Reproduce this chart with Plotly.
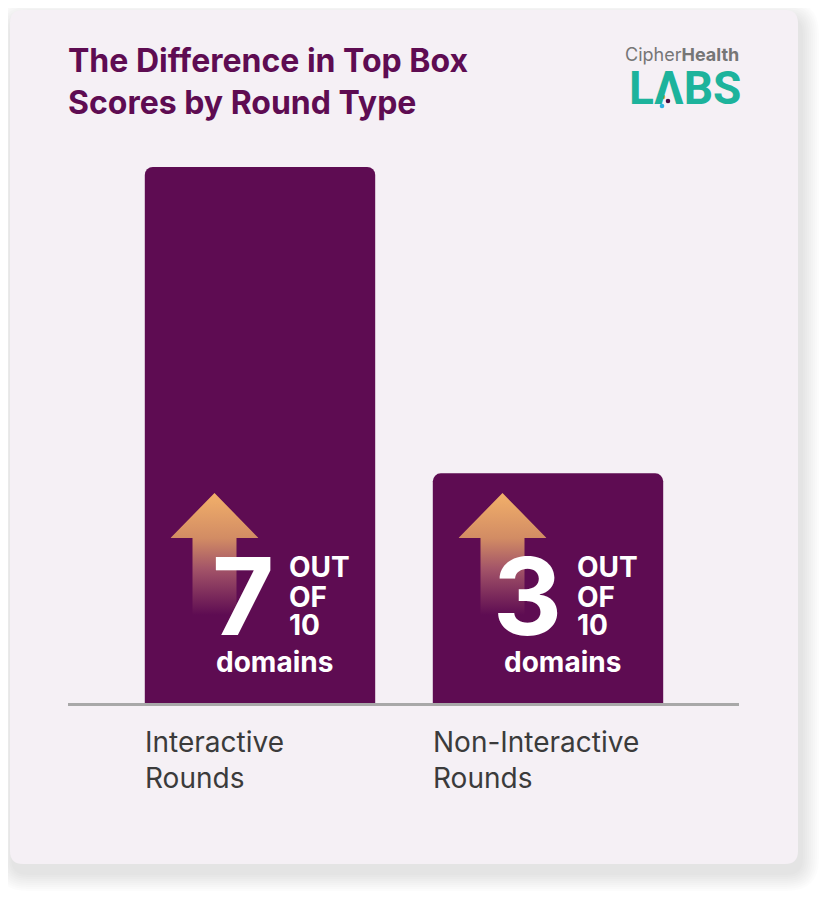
import base64
import plotly.graph_objects as go

# ---- data ----
categories = ["Interactive Rounds", "Non-Interactive Rounds"]
label_lines = ["Interactive<br>Rounds", "Non-Interactive<br>Rounds"]
domains_up = [7, 3]
domains_total = 10

OFF = 8  # default page margin of the html body
W, H = 830 - OFF, 897 - OFF
BAR = "#5e0c52"
CARD = "#f5f0f5"
TEAL = "#1db39c"

def px(x):
    return (x - OFF) / W

def py(y):
    return 1 - (y - OFF) / H

def rrect(x0, y0, x1, y1, r):
    return (
        f"M {px(x0 + r)} {py(y0)} L {px(x1 - r)} {py(y0)} "
        f"Q {px(x1)} {py(y0)} {px(x1)} {py(y0 + r)} "
        f"L {px(x1)} {py(y1 - r)} Q {px(x1)} {py(y1)} {px(x1 - r)} {py(y1)} "
        f"L {px(x0 + r)} {py(y1)} Q {px(x0)} {py(y1)} {px(x0)} {py(y1 - r)} "
        f"L {px(x0)} {py(y0 + r)} Q {px(x0)} {py(y0)} {px(x0 + r)} {py(y0)} Z"
    )

fig = go.Figure()
fig.add_trace(go.Bar(
    x=list(range(len(categories))), y=domains_up, width=0.8,
    marker=dict(color=BAR, line=dict(width=0)),
    hoverinfo="skip", showlegend=False,
))

shapes = []
# soft card shadow
for grow in range(18, 0, -2):
    shapes.append(dict(type="path", xref="paper", yref="paper", layer="below",
                       path=rrect(10 - grow + 3, 10 - grow + 9, 798 + grow + 3, 864 + grow + 9, 14 + grow),
                       fillcolor="rgba(0,0,0,0.011)", line=dict(width=0)))
shapes.append(dict(type="path", xref="paper", yref="paper", layer="below",
                   path=rrect(10, 10, 798, 864, 13), fillcolor=CARD, line=dict(width=0)))
# logo dots
for cx, cy, col in [(663, 97, "#f0a050"), (668, 101, "#4a0a40"), (662, 106, "#2bb0e0")]:
    shapes.append(dict(type="circle", xref="paper", yref="paper", layer="above",
                       x0=px(cx - 2.3), x1=px(cx + 2.3), y0=py(cy + 2.3), y1=py(cy - 2.3),
                       fillcolor=col, line=dict(width=0)))

# arrow icon as svg image
svg = """<svg xmlns='http://www.w3.org/2000/svg' viewBox='0 0 88 122' preserveAspectRatio='none'>
<defs><linearGradient id='g' x1='0' y1='0' x2='0' y2='1'>
<stop offset='0' stop-color='#f2b06a'/>
<stop offset='0.37' stop-color='#d28c64'/>
<stop offset='0.62' stop-color='#a35468'/>
<stop offset='1' stop-color='#5e0c52'/>
</linearGradient></defs>
<path d='M0 45 L44 0 L88 45 L66 45 L66 122 L22 122 L22 45 Z' fill='url(#g)'/>
</svg>"""
src = "data:image/svg+xml;base64," + base64.b64encode(svg.encode()).decode()

PX_PER_CAT = 288.0
PX_PER_VAL = 536.0 / 7
images = []
for i in range(len(categories)):
    images.append(dict(source=src, xref="x", yref="y",
                       x=i - 45.5 / PX_PER_CAT, y=(703 - 493) / PX_PER_VAL,
                       sizex=88 / PX_PER_CAT, sizey=122 / PX_PER_VAL,
                       xanchor="center", yanchor="top", sizing="stretch", layer="above"))

ann = []
# title
ann.append(dict(xref="paper", yref="paper", x=px(66), y=py(39), xanchor="left", yanchor="top",
                align="left", showarrow=False,
                text="The Difference in Top Box<br>Scores by Round Type",
                font=dict(family="Inter", size=32, color=BAR, weight="bold")))
# logo
ann.append(dict(xref="paper", yref="paper", x=px(623), y=py(55), xanchor="left", yanchor="middle",
                showarrow=False, text="Cipher<b>Health</b>",
                font=dict(family="Inter", size=18, color="#767676")))
ann.append(dict(xref="paper", yref="paper", x=px(627), y=py(88), xanchor="left", yanchor="middle",
                showarrow=False, text="<b>LΛBS</b>",
                font=dict(family="Roboto", size=46, color=TEAL)))

BIGF = dict(family="Inter", size=107, color="white", weight="bold")
SMF = dict(family="Inter", size=28, color="white", weight="bold")
for i, v in enumerate(domains_up):
    ann.append(dict(x=i, y=0, xref="x", yref="y", xshift=16, yshift=107, xanchor="right",
                    yanchor="middle", showarrow=False, text=str(v), font=BIGF))
    for txt, ys in [("OUT", 136), ("OF", 106), (str(domains_total), 78)]:
        ann.append(dict(x=i, y=0, xref="x", yref="y", xshift=27, yshift=ys, xanchor="left",
                        yanchor="middle", showarrow=False, text=txt, font=SMF))
    ann.append(dict(x=i, y=0, xref="x", yref="y", xshift=14, yshift=41, xanchor="center",
                    yanchor="middle", showarrow=False, text="domains",
                    font=dict(family="Inter", size=28, color="white", weight="bold")))
    ann.append(dict(x=i, y=0, xref="x", yref="y", xshift=-117, yshift=-20, xanchor="left",
                    yanchor="top", align="left", showarrow=False, text=label_lines[i],
                    font=dict(family="Inter", size=28, color="#3b3b3b")))

fig.update_layout(
    width=W, height=H, margin=dict(l=0, r=0, t=0, b=0),
    paper_bgcolor="white", plot_bgcolor="rgba(0,0,0,0)",
    barcornerradius=8,
    xaxis=dict(domain=[px(68), px(739)], range=[-192 / PX_PER_CAT, 1 + 191 / PX_PER_CAT],
               showline=True, linecolor="#a8a8a8", linewidth=3, showgrid=False,
               zeroline=False, showticklabels=False, ticks="", fixedrange=True),
    yaxis=dict(domain=[py(703), py(167)], range=[0, 7], visible=False, showgrid=False,
               zeroline=False, fixedrange=True),
    shapes=shapes, images=images, annotations=ann, showlegend=False,
)
fig.write_html("out.html", config=dict(displayModeBar=False))
